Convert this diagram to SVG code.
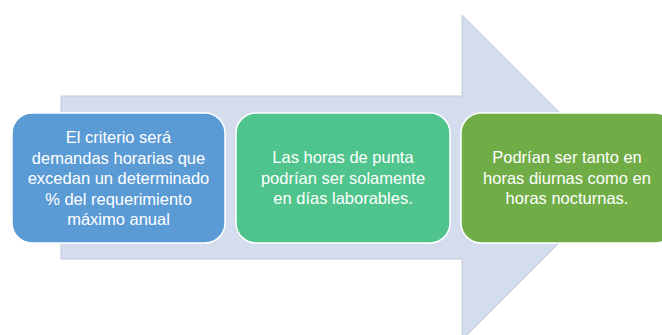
<svg xmlns="http://www.w3.org/2000/svg" width="662" height="335" viewBox="0 0 662 335">
<style>
.arrow{fill:#D4DDEE;stroke:#C3C9D3;stroke-width:1}
.box{stroke:#FFFFFF;stroke-width:1.5}
.t{font-family:"Liberation Sans",Arial,sans-serif;font-size:16.5px;fill:#FFFFFF;text-anchor:middle}
</style>
<rect width="662" height="335" fill="#FFFFFF"/>
<g id="arrow">
<path class="arrow" d="M61,96 H462 V15 L624.5,177.5 L462,340 V259 H61 Z"/>
</g>
<g id="node1">
<rect class="box" x="12" y="113" width="213" height="130" rx="20" fill="#5B9BD5"/>
<text class="t" x="118.5" y="143">El criterio será</text>
<text class="t" x="118.5" y="163.5">demandas horarias que</text>
<text class="t" x="118.5" y="184">excedan un determinado</text>
<text class="t" x="118.5" y="204.5">% del requerimiento</text>
<text class="t" x="118.5" y="225">máximo anual</text>
</g>
<g id="node2">
<rect class="box" x="236" y="113" width="214" height="130" rx="20" fill="#4FC48C"/>
<text class="t" x="343" y="163">Las horas de punta</text>
<text class="t" x="343" y="183.5">podrían ser solamente</text>
<text class="t" x="343" y="204">en días laborables.</text>
</g>
<g id="node3">
<rect class="box" x="461" y="113" width="214" height="130" rx="20" fill="#70AD47"/>
<text class="t" x="567" y="163">Podrían ser tanto en</text>
<text class="t" x="567" y="183.5">horas diurnas como en</text>
<text class="t" x="567" y="204">horas nocturnas.</text>
</g>
<g id="connectors"></g>
</svg>
